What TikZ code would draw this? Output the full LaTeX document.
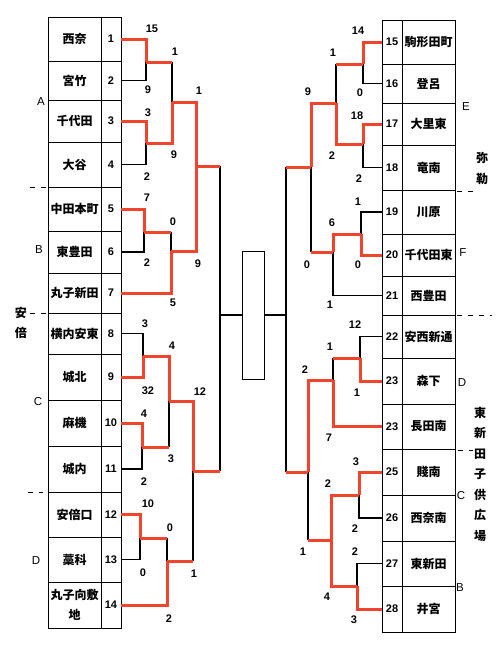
\documentclass[tikz,border=0pt]{standalone}
\usepackage{fontspec}
\setmainfont{Liberation Sans}
\newfontfamily\cjk{Noto Sans CJK JP}
\definecolor{mred}{RGB}{240,68,44}
\begin{document}
\begin{tikzpicture}[x=1pt,y=-1pt,
  bk/.style={line width=1.1pt, black},
  rd/.style={line width=3pt, mred, line join=miter},
  namecell/.style={draw, line width=0.9pt, minimum width=53pt, inner sep=0pt, align=center,
    font=\cjk\bfseries\fontsize{12}{20}\selectfont},
  numcell/.style={draw, line width=0.9pt, minimum width=20pt, inner sep=0pt,
    font=\bfseries\fontsize{11}{12}\selectfont},
  sc/.style={inner sep=0pt, font=\bfseries\fontsize{11}{12}\selectfont},
  grp/.style={inner sep=0pt, font=\fontsize{11.5}{12}\selectfont},
  vlab/.style={inner sep=0pt, align=center, font=\cjk\bfseries\fontsize{12}{20.5}\selectfont},
  sep/.style={line width=0.8pt, dash pattern=on 5pt off 6pt}]
\useasboundingbox (0,0) rectangle (500,646);

% left table
\foreach \i/\c/\h/\t in {1/39/44/西奈, 2/80.5/39/宮竹, 3/121/42/千代田, 4/164.5/45/大谷,
  5/209/44/中田本町, 6/252/42/東豊田, 7/293/40/丸子新田, 8/333.5/41/横内安東,
  9/377/46/城北, 10/423/46/麻機, 11/469/46/城内, 12/514.5/45/安倍口,
  13/559.5/45/藁科, 14/605/46/{丸子向敷\\地}}
{ \node[namecell, minimum height=\h pt] (L\i) at (74.5,\c) {\t};
  \node[numcell, minimum height=\h pt] (n\i) at (111,\c) {\i}; }

% right table
\foreach \i/\lab/\c/\h/\t in {15/15/42/44/駒形田町, 16/16/83.5/39/登呂, 17/17/124/42/大里東,
  18/18/167.5/45/竜南, 19/19/212/44/川原, 20/20/255/42/千代田東, 21/21/295.5/39/西豊田,
  22/22/336.5/43/安西新通, 23/23/381/46/森下, 24/23/426.5/45/長田南, 25/25/472/46/賤南,
  26/26/518/46/西奈南, 27/27/563.5/45/東新田, 28/28/609/46/井宮}
{ \node[numcell, minimum height=\h pt] (n\i) at (392,\c) {\lab};
  \node[namecell, minimum height=\h pt] (L\i) at (428.5,\c) {\t}; }

% centre box
\node[draw, line width=1pt, minimum width=22pt, minimum height=128pt, inner sep=0pt] (box) at (253,315) {};

% junctions left
\coordinate (J12) at (146,62);
\coordinate (J34) at (146,143);
\coordinate (J56) at (144,232);
\coordinate (JA) at (172,102);
\coordinate (JB) at (171,251);
\coordinate (JAB) at (196,166);
\coordinate (J89) at (143,356);
\coordinate (J1011) at (142,447);
\coordinate (JC) at (169,401);
\coordinate (J1213) at (140,538);
\coordinate (JD) at (167,561);
\coordinate (JCD) at (193,471);
\coordinate (JL) at (220,315);
% junctions right
\coordinate (J1516) at (363,64);
\coordinate (J1718) at (363,144);
\coordinate (JE) at (336,103);
\coordinate (J1920) at (361,234);
\coordinate (JF) at (333,252);
\coordinate (JEF) at (311,167);
\coordinate (J2223) at (360,358);
\coordinate (JD2) at (333,380);
\coordinate (J2526) at (359,495);
\coordinate (J2728) at (357,586);
\coordinate (JCB) at (331,540);
\coordinate (JDCB) at (308,472);
\coordinate (JR) at (286,315);

% black lines left
\draw[bk] (n2.east) -| (J12);
\draw[bk] (n4.east) -| (J34);
\draw[bk] (n6.east) -| (J56);
\draw[bk] (J12 -| JA) -- (JA);
\draw[bk] (J56 -| JB) -- (JB);
\draw[bk] (n8.east) -| (J89);
\draw[bk] (n11.east) -| (J1011);
\draw[bk] (J1011 -| JC) -- (JC);
\draw[bk] (n13.east) -| (J1213);
\draw[bk] (J1213 -| JD) -- (JD);
\draw[bk] (JD -| JCD) -- (JCD);
\draw[bk] (JAB -| JL) -- (JCD -| JL);
\draw[bk] (JL) -- (box.west);
% black lines right
\draw[bk] (n16.west) -| (J1516);
\draw[bk] (n18.west) -| (J1718);
\draw[bk] (J1516 -| JE) -- (JE);
\draw[bk] (n19.west) -| (J1920);
\draw[bk] (n21.west) -| (JF);
\draw[bk] (JF -| JEF) -- (JEF);
\draw[bk] (n22.west) -| (J2223);
\draw[bk] (J2223 -| JD2) -- (JD2);
\draw[bk] (n26.west) -| (J2526);
\draw[bk] (n27.west) -| (J2728);
\draw[bk] (JCB -| JDCB) -- (JDCB);
\draw[bk] (JEF -| JR) -- (JDCB -| JR);
\draw[bk] (JR) -- (box.east);

% red lines left
\draw[rd] (n1.east) -| (J12);
\draw[rd] (n3.east) -| (J34);
\draw[rd] (n5.east) -| (J56);
\draw[rd] (J12) -- (J12 -| JA);
\draw[rd] (J34) -| (JA);
\draw[rd] (J56) -- (J56 -| JB);
\draw[rd] (n7.east) -| (JB);
\draw[rd] (JA) -| (JAB);
\draw[rd] (JB) -| (JAB);
\draw[rd] (JAB) -- (JAB -| JL);
\draw[rd] (n9.east) -| (J89);
\draw[rd] (n10.east) -| (J1011);
\draw[rd] (J89) -| (JC);
\draw[rd] (J1011) -- (J1011 -| JC);
\draw[rd] (JC) -| (JCD);
\draw[rd] (n12.east) -| (J1213);
\draw[rd] (J1213) -- (J1213 -| JD);
\draw[rd] (n14.east) -| (JD);
\draw[rd] (JD) -- (JD -| JCD);
\draw[rd] (JCD) -- (JCD -| JL);
% red lines right
\draw[rd] (n15.west) -| (J1516);
\draw[rd] (n17.west) -| (J1718);
\draw[rd] (J1516) -- (J1516 -| JE);
\draw[rd] (J1718) -| (JE);
\draw[rd] (n20.west) -| (J1920);
\draw[rd] (J1920) -| (JF);
\draw[rd] (JE) -| (JEF);
\draw[rd] (JF) -- (JF -| JEF);
\draw[rd] (JEF) -- (JEF -| JR);
\draw[rd] (n23.west) -| (J2223);
\draw[rd] (J2223) -- (J2223 -| JD2);
\draw[rd] (n24.west) -| (JD2);
\draw[rd] (JD2) -| (JDCB);
\draw[rd] (n25.west) -| (J2526);
\draw[rd] (n28.west) -| (J2728);
\draw[rd] (J2526) -| (JCB);
\draw[rd] (J2728) -| (JCB);
\draw[rd] (JCB) -- (JCB -| JDCB);
\draw[rd] (JDCB) -- (JDCB -| JR);

% scores left
\foreach \k/\x/\y/\s in {a/152/29/15, b/175/52/1, c/199/91/1, d/148/90/9, e/148/113/3,
  f/174/155/9, g/147/177/2, h/147/198/7, i/173/222/0, j/147/263/2, k/198/264/9,
  l/173/303/5, m/145/324/3, n/172/346/4, o/148/391/32, p/200/392/12, q/144/414/4,
  r/171/459/3, s/144/482/2, t/148/504/10, u/170/528/0, v/143/573/0, w/194/574/1, x/169/619/2}
{ \node[sc] (sl\k) at (\x,\y) {\s}; }
% scores right
\foreach \k/\x/\y/\s in {a/358/31/14, b/333/53/1, c/308/92/9, d/360/93/0, e/357/116/18,
  f/332/156/2, g/359/179/2, h/358/202/1, i/332/223/6, j/307/265/0, k/358/265/0,
  l/330/305/1, m/355/325/12, n/330/347/1, o/305/370/2, p/357/393/1, q/329/438/7,
  r/356/462/3, s/328/484/2, t/355/529/2, u/303/552/1, v/355/552/2, w/327/597/4, x/354/620/3}
{ \node[sc] (sr\k) at (\x,\y) {\s}; }

% group labels
\node[grp] (gA) at (41,102) {A};
\node[grp] (gB) at (39,250) {B};
\node[grp] (gC) at (38,402) {C};
\node[grp] (gD) at (36,561) {D};
\node[vlab] (gAnbe) at (21,323) {安\\倍};
\node[grp] (gE) at (466,107) {E};
\node[grp] (gF) at (463,253) {F};
\node[grp] (gD2) at (462,383) {D};
\node[grp] (gC2) at (461,496) {C};
\node[grp] (gB2) at (460,588) {B};
\node[vlab] (gMiroku) at (482,168.5) {弥\\勒};
\node[vlab] (gHigashi) at (480,474) {東\\新\\田\\子\\供\\広\\場};

% separators
\draw[sep] (30,187) -- (47,187);
\draw[sep] (30,313) -- (46,313);
\draw[sep] (28,492) -- (43,492);
\draw[sep] (457,191) -- (474,191);
\draw[sep] (457,315) -- (492,315);
\draw[sep] (458,450) -- (473,450);
\end{tikzpicture}
\end{document}
